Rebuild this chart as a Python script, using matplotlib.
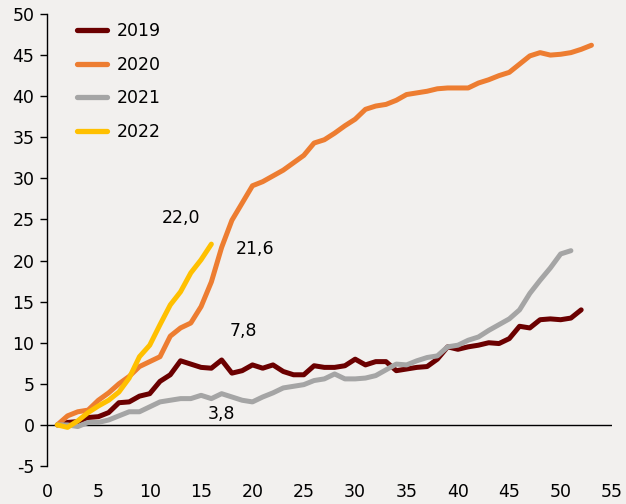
import matplotlib
matplotlib.use("Agg")
import matplotlib.pyplot as plt

weeks_2019 = list(range(1, 53))
v2019 = [0, 0.3, 0.4, 0.9, 1.0, 1.5, 2.7, 2.8, 3.5, 3.8, 5.3, 6.1, 7.8, 7.4, 7.0, 6.9,
         7.9, 6.3, 6.6, 7.3, 6.9, 7.3, 6.5, 6.1, 6.1, 7.2, 7.0, 7.0, 7.2, 8.0, 7.3, 7.7,
         7.7, 6.6, 6.8, 7.0, 7.1, 8.0, 9.5, 9.2, 9.5, 9.7, 10.0, 9.9, 10.5, 12.0, 11.8,
         12.8, 12.9, 12.8, 13.0, 14.0]

weeks_2020 = list(range(1, 54))
v2020 = [0, 1.1, 1.6, 1.8, 3.0, 3.9, 5.0, 5.9, 7.1, 7.7, 8.3, 10.8, 11.8, 12.4, 14.4,
         17.4, 21.6, 24.9, 27.0, 29.1, 29.6, 30.3, 31.0, 31.9, 32.8, 34.3, 34.7, 35.5,
         36.4, 37.2, 38.4, 38.8, 39.0, 39.5, 40.2, 40.4, 40.6, 40.9, 41.0, 41.0, 41.0,
         41.6, 42.0, 42.5, 42.9, 43.9, 44.9, 45.3, 45.0, 45.1, 45.3, 45.7, 46.2]

weeks_2021 = list(range(1, 52))
v2021 = [0, 0.0, -0.2, 0.3, 0.3, 0.6, 1.1, 1.6, 1.6, 2.2, 2.8, 3.0, 3.2, 3.2, 3.6, 3.2,
         3.8, 3.4, 3.0, 2.8, 3.4, 3.9, 4.5, 4.7, 4.9, 5.4, 5.6, 6.2, 5.6, 5.6, 5.7, 6.0,
         6.7, 7.4, 7.3, 7.8, 8.2, 8.4, 9.5, 9.7, 10.3, 10.7, 11.5, 12.2, 12.9, 14.0,
         16.0, 17.6, 19.1, 20.8, 21.2]

weeks_2022 = list(range(1, 17))
v2022 = [0, -0.3, 0.5, 1.5, 2.3, 3.0, 4.0, 5.7, 8.3, 9.7, 12.2, 14.6, 16.2, 18.5, 20.1, 22.0]

series_labels = ["2019", "2020", "2021", "2022"]
colors = ["#6B0000", "#ED7D31", "#A5A5A5", "#FFC000"]

annotations = ["22,0", "21,6", "7,8", "3,8"]
ann_pos = [(13.0, 25.2), (20.3, 21.4), (19.1, 11.4), (17.0, 1.3)]

xticks = list(range(0, 56, 5))
yticks = list(range(-5, 51, 5))

bg = "#F2F0EE"
plt.rcParams['font.family'] = ['DejaVu Sans']
plt.rcParams['axes.unicode_minus'] = False

fig = plt.figure(figsize=(6.26, 5.04), dpi=100, facecolor=bg)
ax = fig.add_axes([47/626, 1-466/504, (612-47)/626, (466-14)/504])
ax.set_facecolor(bg)

data = [(weeks_2019, v2019), (weeks_2020, v2020), (weeks_2021, v2021), (weeks_2022, v2022)]
for (x, y), lab, c in zip(data, series_labels, colors):
    ax.plot(x, y, color=c, lw=3.6, label=lab, solid_capstyle='round', solid_joinstyle='round')

ax.axhline(0, color="black", lw=1.0, zorder=0)

ax.set_xlim(0, 55)
ax.set_ylim(-5, 50)
ax.set_xticks(xticks)
ax.set_yticks(yticks)
ax.tick_params(axis='x', length=0, labelsize=12.5, pad=12)
ax.tick_params(axis='y', length=5, width=1.0, direction='out', labelsize=12.5, pad=4)
for s in ["top", "right", "bottom"]:
    ax.spines[s].set_visible(False)
ax.spines["left"].set_linewidth(1.0)

for t, (x, y) in zip(annotations, ann_pos):
    ax.text(x, y, t, ha="center", va="center", fontsize=12.5, color="black")

leg = ax.legend(loc="upper left", bbox_to_anchor=((77-47)/565, (466-22)/452), frameon=False,
                fontsize=12.5, handlelength=1.7, handletextpad=0.6, labelspacing=0.9,
                borderpad=0, borderaxespad=0)
for h in leg.get_lines():
    h.set_linewidth(3.8)

fig.savefig("out.png", dpi=100, facecolor=bg)
